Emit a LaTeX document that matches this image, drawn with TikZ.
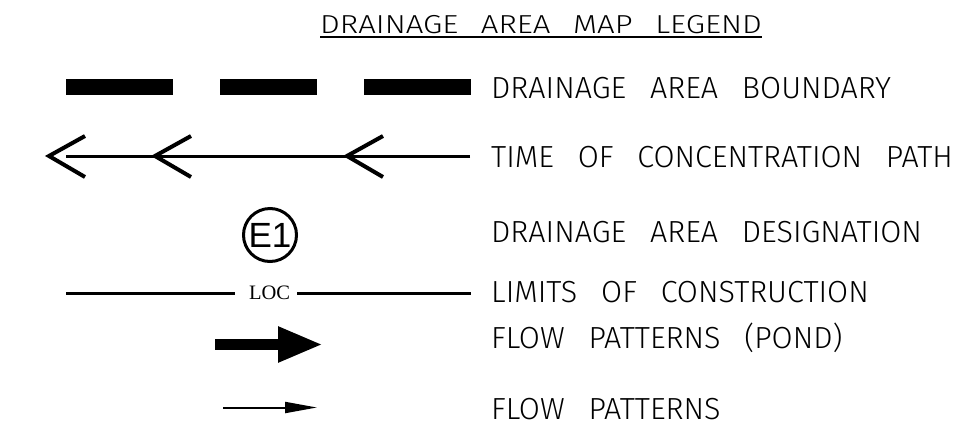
\documentclass[tikz,border=0pt]{standalone}
\usepackage{fontspec}
\newfontfamily\cadfont[WordSpace=2.8]{Fira Sans Light}
\newfontfamily\titlefont[WordSpace=2.6,FakeStretch=1.2]{Fira Sans Light}
\newfontfamily\arialfont{Liberation Sans}
\newfontfamily\timesfont{Liberation Serif}
\usetikzlibrary{arrows.meta,calc}

\tikzset{
lbl/.style={anchor=base west,inner sep=0pt,font=\cadfont\fontsize{30.5}{36}\selectfont},
heavy/.style={line width=3pt},
}

\begin{document}
\begin{tikzpicture}[x=1pt,y=-1pt]
\useasboundingbox (0,0) rectangle (980,437);
\node [anchor=base west,inner sep=0pt,font=\titlefont\fontsize{26}{30}\selectfont] (ttl) at (320,33) {DRAINAGE AREA MAP LEGEND};
\draw [line width=1.5pt] ([yshift=-4pt]ttl.base west) -- ([yshift=-4pt]ttl.base east);

\node [lbl] (bnd) at (491,98) {DRAINAGE AREA BOUNDARY};
\node [lbl] (tc) at (491,167) {TIME OF CONCENTRATION PATH};
\node [lbl] (des) at (491,242) {DRAINAGE AREA DESIGNATION};
\node [lbl] (lim) at (491,302) {LIMITS OF CONSTRUCTION};
\node [lbl] (pond) at (491,348) {FLOW PATTERNS (POND)};
\node [lbl] (flow) at (491,419) {FLOW PATTERNS};

\foreach \a/\b in {66/173,220/317,364/471}
  \fill (\a,79) rectangle (\b,95);

\coordinate (tcR) at (470,156);
\coordinate (tcL) at (66,156);
\draw [heavy] (tcR) -- (tcL);
\foreach \t in {49,155,347}
  \draw [line width=4pt] (\t+36,136) -- (\t,156) -- (\t+36,177);

\node [circle,draw,line width=3pt,minimum size=53pt,inner sep=0pt,
  font=\arialfont\fontsize{35}{40}\selectfont] (e1) at (270,235) {E1};

\node [inner sep=0pt,font=\timesfont\fontsize{20.5}{24}\selectfont] (locl) at (269.5,293) {LOC};
\coordinate (locA) at (66,293);
\coordinate (locB) at (471,293);
\draw [heavy] (locA) -- ([xshift=-14pt]locl.west);
\draw [heavy] ([xshift=7pt]locl.east) -- (locB);

\coordinate (pA) at (215,344.5);
\coordinate (pB) at (323,344.5);
\draw [line width=11pt,-{Triangle[length=45pt,width=33pt]}] (pA) -- (pB);

\coordinate (fA) at (223,407.5);
\coordinate (fB) at (317,407.5);
\draw [line width=2pt,-{Triangle[length=32pt,width=11pt]}] (fA) -- (fB);
\end{tikzpicture}
\end{document}
